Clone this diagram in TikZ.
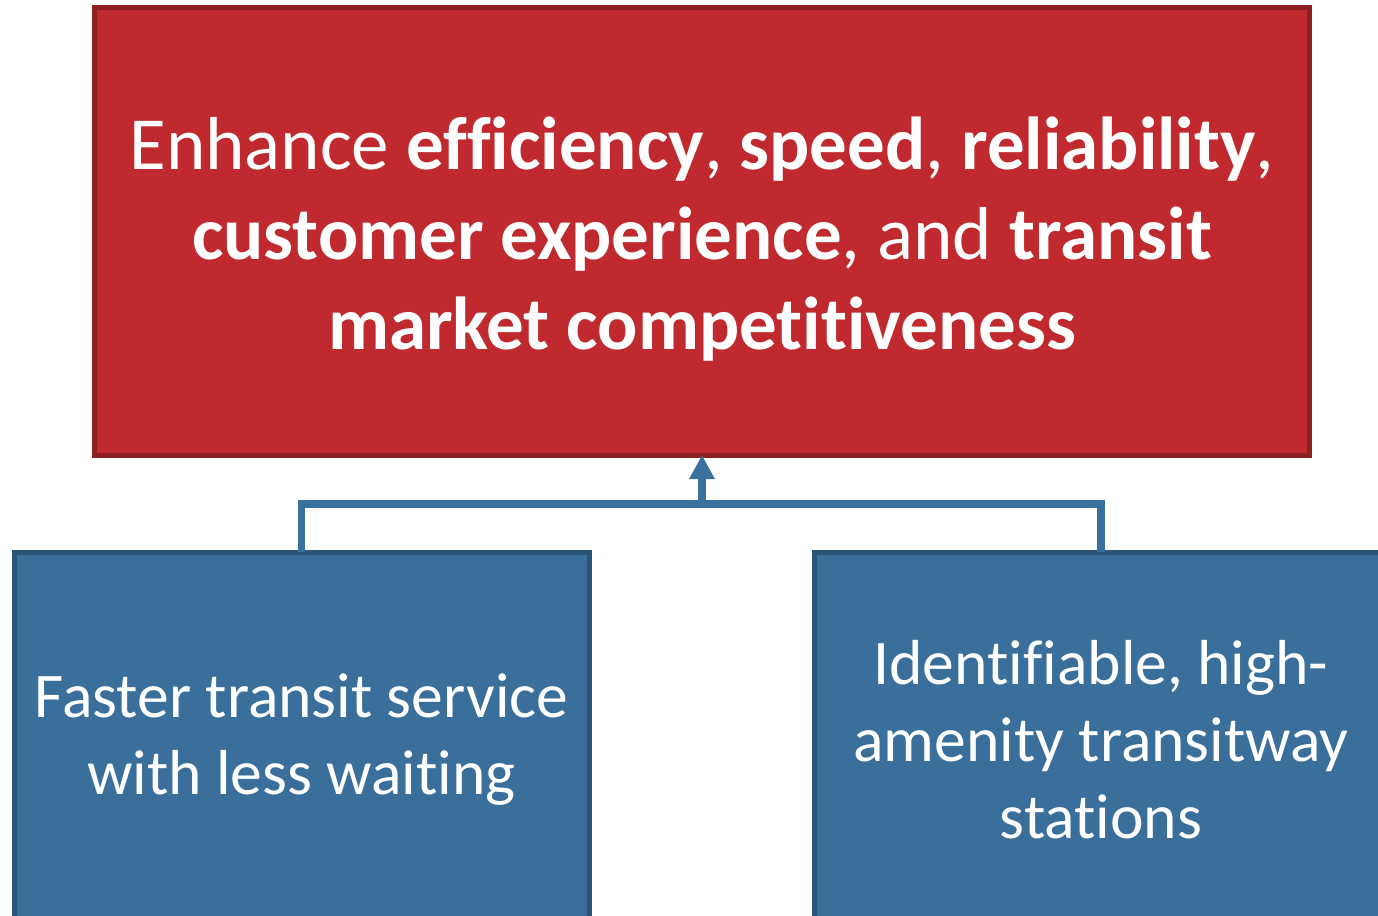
\documentclass[tikz,border=0pt]{standalone}
\usepackage{fontspec}
\setmainfont{Carlito}[Ligatures={NoCommon}]
\usetikzlibrary{arrows.meta}
\definecolor{goalred}{RGB}{192,42,46}
\definecolor{goalredline}{RGB}{142,31,33}
\definecolor{meansblue}{RGB}{58,111,155}
\definecolor{meansblueline}{RGB}{42,84,120}
\definecolor{linkblue}{RGB}{56,112,158}
\tikzset{
  goalbox/.style={draw=goalredline, fill=goalred, line width=2.5pt,
    inner sep=0pt, outer sep=0pt},
  goaltext/.style={text=white, align=center, inner sep=0pt,
    font=\fontsize{37.5pt}{45pt}\selectfont},
  meansbox/.style={draw=meansblueline, fill=meansblue, line width=2.5pt, text=white,
    align=center, inner sep=0pt, outer sep=0pt,
    font=\fontsize{31.8pt}{38.5pt}\selectfont},
  link/.style={draw=linkblue, line width=3.75pt},
}
\begin{document}
\begin{tikzpicture}[x=0.5pt, y=-0.5pt]
\useasboundingbox (0,0) rectangle (1378,916);
\clip (0,0) rectangle (1378,916);
% goal box and its wording
\node[goalbox, minimum width=607.5pt, minimum height=223.75pt] (goal) at (702,231.25) {};
\node[goaltext] (goaltext) at ([yshift=-4pt]goal.center)
  {Enhance \textbf{efficiency}, \textbf{speed}, \textbf{reliability},\\
   \textbf{customer experience}, and \textbf{transit}\\
   \textbf{market competitiveness}};
% means boxes
\node[meansbox, minimum width=287.5pt, minimum height=188pt] (faster) at (301.5,740)
  {Faster transit service\\with less waiting};
\node[meansbox, minimum width=286.5pt, minimum height=188pt] (stations) at (1101,740)
  {Identifiable, high-\\amenity transitway\\stations};
% connectors
\coordinate (join) at (702,504);
\draw[link] (faster.north) |- (join) -| (stations.north);
\draw[link, -{Triangle[width=12pt, length=12pt]}] (join) -- (goal.south);
\end{tikzpicture}
\end{document}
